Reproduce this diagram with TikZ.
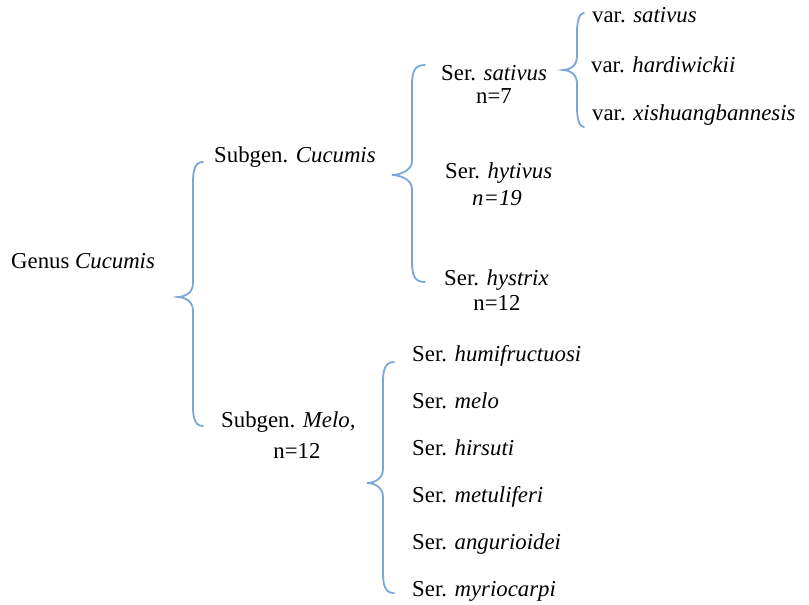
\documentclass[tikz,border=0pt]{standalone}
\usepackage{fontspec}
\setmainfont{Liberation Serif}
\definecolor{bracecol}{RGB}{122,166,219}
\newcommand\cbr[6]{% xtip, xv, xend, ytop, ytip, ybot
  \draw[bracestyle] (#3,#4) .. controls (#2+3,#4) and (#2,#4+6) .. (#2,#4+20)
    -- (#2,#5-14) .. controls (#2,#5-4) and (#1+7,#5) .. (#1,#5)
    .. controls (#1+7,#5) and (#2,#5+4) .. (#2,#5+14)
    -- (#2,#6-20) .. controls (#2,#6-6) and (#2+3,#6) .. (#3,#6);}
\begin{document}
\begin{tikzpicture}[x=1pt,y=-1pt,
  bracestyle/.style={draw=bracecol,line width=1.8pt,line cap=round},
  lbl/.style={anchor=base west,inner sep=0pt,font=\fontsize{22.8}{27}\selectfont},
  lblc/.style={anchor=base,inner sep=0pt,font=\fontsize{22.8}{27}\selectfont}]
\useasboundingbox (0,0) rectangle (809,605);
% labels
\node[lbl] (genus) at (11,268) {Genus \textit{Cucumis}};
\node[lbl] (subc) at (214,162) {Subgen. \textit{Cucumis}};
\node[lbl] (subm) at (221,427) {Subgen. \textit{Melo,}};
\node[lblc] (submn) at (297,458) {n=12};
\node[lbl] (sats) at (441,80) {Ser. \textit{sativus}};
\node[lblc] (satn) at (494,103) {n=7};
\node[lbl] (hyt) at (445,178) {Ser. \textit{hytivus}};
\node[lblc] (hytn) at (497,205) {\textit{n=19}};
\node[lbl] (hys) at (444,285) {Ser. \textit{hystrix}};
\node[lblc] (hysn) at (497,310) {n=12};
\node[lbl] (v1) at (592,22) {var. \textit{sativus}};
\node[lbl] (v2) at (591,72) {var. \textit{hardiwickii}};
\node[lbl] (v3) at (592,120) {var. \textit{xishuangbannesis}};
\node[lbl] (m1) at (412,361) {Ser. \textit{humifructuosi}};
\node[lbl] (m2) at (412,408) {Ser. \textit{melo}};
\node[lbl] (m3) at (412,455) {Ser. \textit{hirsuti}};
\node[lbl] (m4) at (412,502) {Ser. \textit{metuliferi}};
\node[lbl] (m5) at (412,549) {Ser. \textit{angurioidei}};
\node[lbl] (m6) at (412,596) {Ser. \textit{myriocarpi}};
% braces
\cbr{178}{193}{203}{162}{297}{426}
\cbr{392}{412}{425}{65}{175}{282}
\cbr{563}{577}{584}{13}{70}{127}
\cbr{367}{383}{394}{362}{483}{593}
\end{tikzpicture}
\end{document}
